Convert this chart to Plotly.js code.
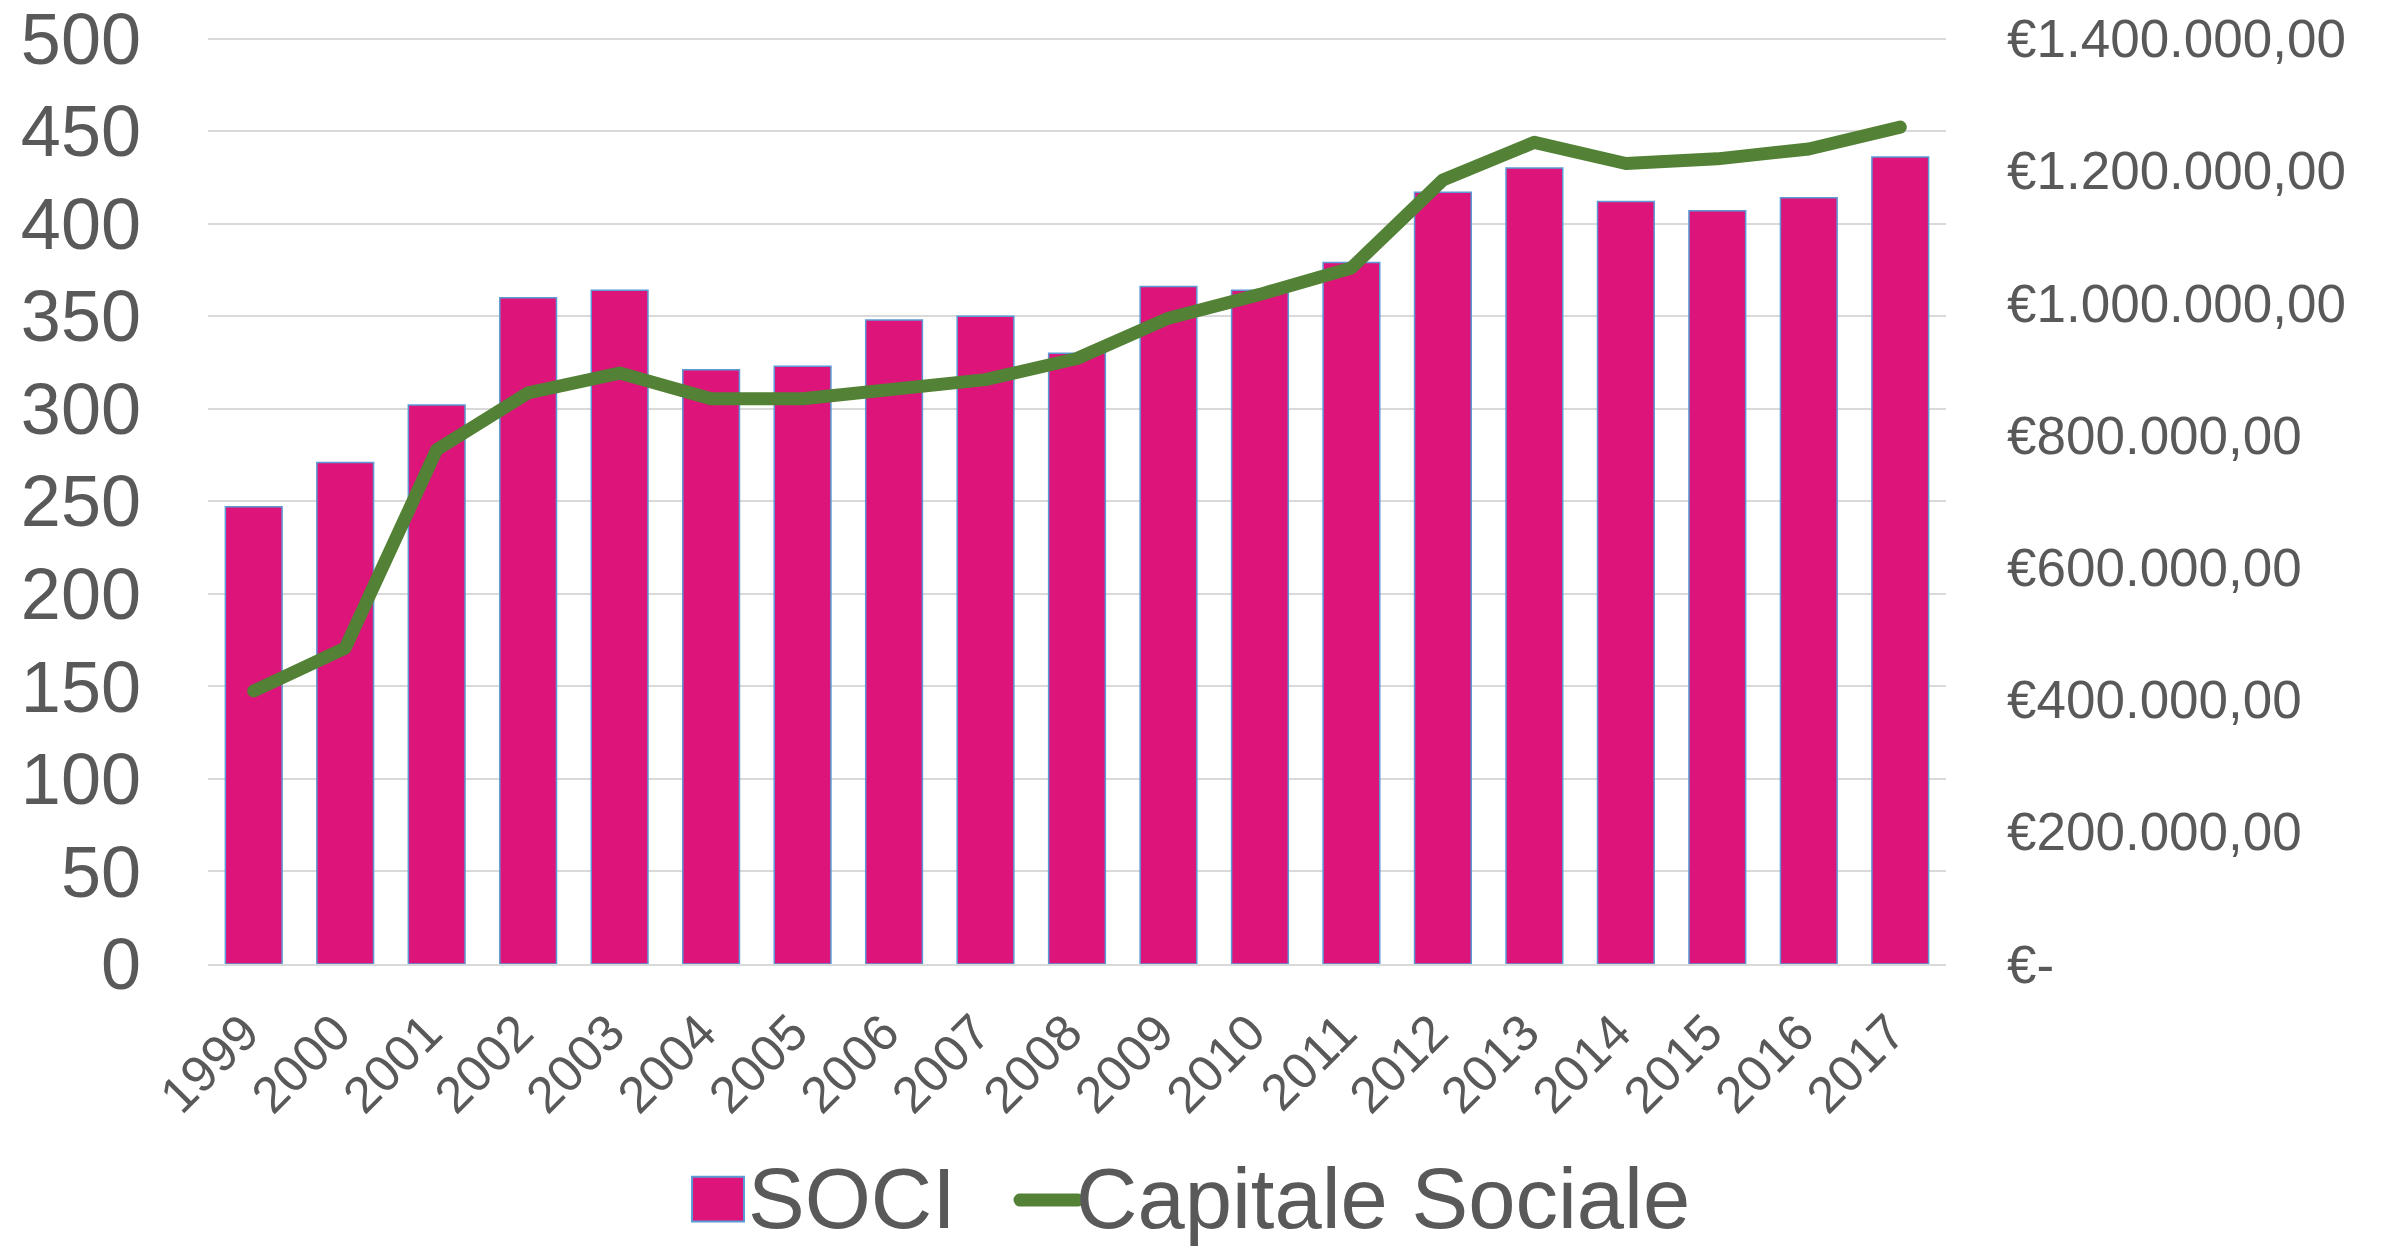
<!DOCTYPE html>
<html>
<head>
<meta charset="utf-8">
<script src="https://cdn.plot.ly/plotly-3.0.1.min.js"></script>
<style>
  html, body { margin: 0; padding: 0; background: #ffffff; }
  #chart { width: 2381px; height: 1246px; }
</style>
</head>
<body>
<div id="chart"></div>
<script>
// ---- data ----
const years = ['1999','2000','2001','2002','2003','2004','2005','2006','2007','2008',
               '2009','2010','2011','2012','2013','2014','2015','2016','2017'];
const soci = [247, 271, 302, 360, 364, 321, 323, 348, 350, 330,
              366, 364, 379, 417, 430, 412, 407, 414, 436];
const capitaleSociale = [413000, 478000, 778000, 864000, 894000, 855000, 855000, 871000, 884000, 916000,
                         977000, 1013000, 1053000, 1186000, 1243000, 1211000, 1218000, 1233000, 1266000];
const leftTickVals = [0, 50, 100, 150, 200, 250, 300, 350, 400, 450, 500];
const rightTickVals = [0, 200000, 400000, 600000, 800000, 1000000, 1200000, 1400000];
const rightTickText = ['€-', '€200.000,00', '€400.000,00', '€600.000,00', '€800.000,00',
                       '€1.000.000,00', '€1.200.000,00', '€1.400.000,00'];
const seriesNames = ['SOCI', 'Capitale Sociale'];

const FONT = '"Liberation Sans", Arial, Helvetica, sans-serif';
const GREY = '#595959';
const BAR_COLOR = '#DD1479';
const BAR_EDGE = '#5B9BD5';
const LINE_COLOR = '#538135';

const traces = [
  {
    type: 'bar',
    name: seriesNames[0],
    x: years,
    y: soci,
    marker: { color: BAR_COLOR, line: { color: BAR_EDGE, width: 1.5 } },
    yaxis: 'y'
  },
  {
    type: 'scatter',
    mode: 'lines',
    name: seriesNames[1],
    x: years,
    y: capitaleSociale,
    line: { color: LINE_COLOR, width: 13 },
    yaxis: 'y2'
  }
];

const layout = {
  width: 2381,
  height: 1246,
  margin: { l: 208, r: 435, t: 33, b: 282 },
  paper_bgcolor: '#ffffff',
  plot_bgcolor: '#ffffff',
  font: { family: FONT, color: GREY },
  bargap: 0.38,
  showlegend: false,
  xaxis: {
    type: 'category',
    tickangle: -45,
    tickfont: { size: 51, color: GREY, family: FONT },
    showline: true,
    linecolor: '#D9D9D9',
    linewidth: 2,
    ticks: '',
    showgrid: false,
    ticklabelstandoff: 16,
    ticklabelshift: -10
  },
  yaxis: {
    range: [0, 503],
    tickvals: leftTickVals,
    tickfont: { size: 72, color: GREY, family: FONT },
    gridcolor: '#D9D9D9',
    gridwidth: 2,
    zeroline: false,
    showline: false,
    ticks: '',
    ticklabelstandoff: 66,
    ticklabeloverflow: 'allow'
  },
  yaxis2: {
    overlaying: 'y',
    side: 'right',
    range: [0, 1408400],
    tickvals: rightTickVals,
    ticktext: rightTickText,
    tickfont: { size: 53, color: GREY, family: FONT },
    showgrid: false,
    zeroline: false,
    showline: false,
    ticks: '',
    ticklabelstandoff: 60,
    ticklabeloverflow: 'allow'
  },
  // legend drawn below the plot (swatches + labels)
  shapes: [
    { type: 'rect', xref: 'paper', yref: 'paper',
      x0: 0.2785, x1: 0.3084, y0: -0.2767, y1: -0.2284,
      fillcolor: BAR_COLOR, line: { color: BAR_EDGE, width: 2 } },
    { type: 'line', xref: 'paper', yref: 'paper',
      x0: 0.4672, x1: 0.5006, y0: -0.2535, y1: -0.2535,
      line: { color: LINE_COLOR, width: 13 } }
  ],
  annotations: [
    { text: seriesNames[0], xref: 'paper', yref: 'paper', x: 0.3096, y: -0.2520,
      xanchor: 'left', yanchor: 'middle', showarrow: false,
      font: { size: 85, color: GREY, family: FONT } },
    { text: seriesNames[1], xref: 'paper', yref: 'paper', x: 0.4983, y: -0.2520,
      xanchor: 'left', yanchor: 'middle', showarrow: false,
      font: { size: 85, color: GREY, family: FONT } }
  ]
};

Plotly.newPlot('chart', traces, layout, { displayModeBar: false, staticPlot: true }).then(function (gd) {
  // rounded line ends / joins as in the reference
  gd.querySelectorAll('.scatterlayer .js-line').forEach(function (p) {
    p.style.strokeLinecap = 'round';
    p.style.strokeLinejoin = 'round';
  });
  gd.querySelectorAll('.shapelayer path').forEach(function (p) {
    const d = p.getAttribute('d') || '';
    if (d.indexOf('Z') < 0) { p.style.strokeLinecap = 'round'; }
  });
});
</script>
</body>
</html>
